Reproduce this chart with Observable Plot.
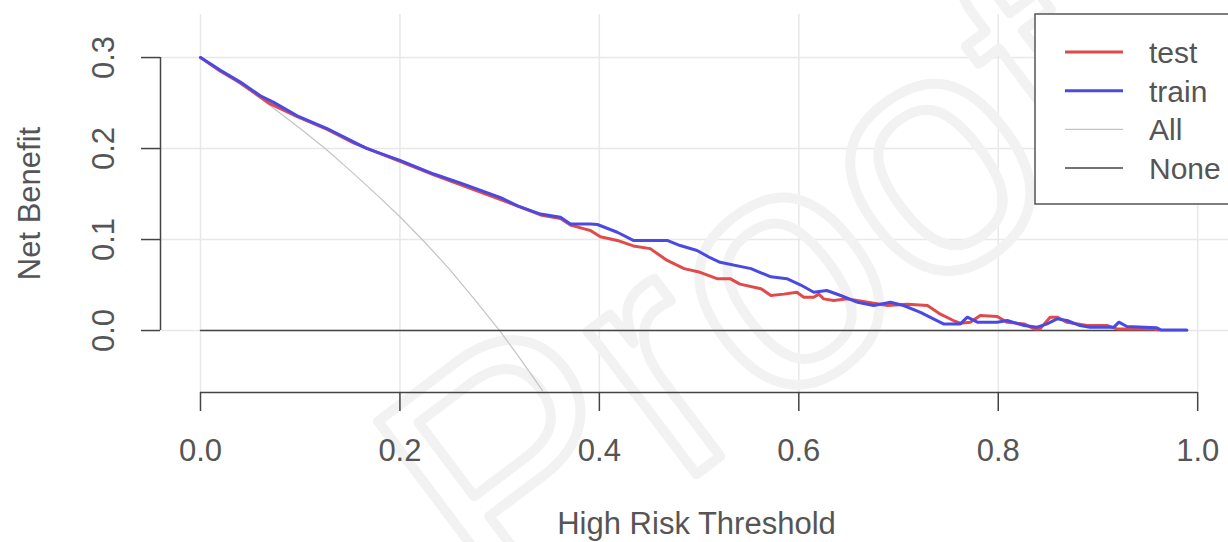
<!DOCTYPE html>
<html><head><meta charset="utf-8">
<script src="https://cdn.jsdelivr.net/npm/d3@7"></script>
<script src="https://cdn.jsdelivr.net/npm/@observablehq/plot@0.6"></script>
<style>body{margin:0;background:#fff;overflow:hidden}</style>
</head><body><div id="chart"></div>
<script>
// ---- data ----
const xTicks = [0, 0.2, 0.4, 0.6, 0.8, 1.0];
const yTicks = [0, 0.1, 0.2, 0.3];
const seriesNames = ["test", "train", "All", "None"];
const xTitle = "High Risk Threshold";
const yTitle = "Net Benefit";
const watermark = "Proof";

const testCurve = [
  [0,0.300],[0.02,0.285],[0.04,0.272],[0.07,0.249],[0.097,0.235],[0.127,0.221],
  [0.154,0.206],[0.2,0.186],[0.234,0.171],[0.261,0.160],[0.301,0.144],[0.341,0.127],
  [0.361,0.123],[0.371,0.116],[0.384,0.112],[0.391,0.110],[0.401,0.103],[0.418,0.099],
  [0.434,0.093],[0.451,0.090],[0.468,0.077],[0.485,0.068],[0.501,0.064],[0.518,0.057],
  [0.531,0.057],[0.541,0.051],[0.562,0.046],[0.572,0.0385],[0.585,0.040],[0.598,0.042],
  [0.605,0.0366],[0.615,0.0366],[0.620,0.040],[0.625,0.0348],[0.635,0.033],[0.649,0.0348],
  [0.669,0.031],[0.689,0.0275],[0.709,0.029],[0.729,0.0275],[0.742,0.018],[0.755,0.011],
  [0.762,0.008],[0.772,0.009],[0.782,0.0165],[0.799,0.0154],[0.809,0.009],[0.826,0.0073],
  [0.836,0.0018],[0.842,0.0018],[0.852,0.0147],[0.859,0.0147],[0.869,0.009],[0.889,0.0055],
  [0.909,0.0055],[0.919,0.0018],[0.955,0.0018],[0.960,0.0007]
];
const trainCurve = [
  [0,0.300],[0.02,0.286],[0.04,0.273],[0.06,0.258],[0.073,0.251],[0.097,0.236],
  [0.127,0.222],[0.154,0.207],[0.167,0.200],[0.2,0.187],[0.234,0.172],[0.261,0.162],
  [0.301,0.146],[0.318,0.137],[0.341,0.128],[0.361,0.1245],[0.371,0.117],[0.391,0.117],
  [0.398,0.1165],[0.418,0.108],[0.434,0.099],[0.468,0.099],[0.481,0.0934],[0.498,0.088],
  [0.511,0.080],[0.521,0.075],[0.552,0.068],[0.572,0.059],[0.588,0.057],[0.602,0.050],
  [0.615,0.042],[0.628,0.044],[0.642,0.0385],[0.659,0.031],[0.675,0.0275],[0.692,0.031],
  [0.705,0.0275],[0.722,0.020],[0.745,0.0073],[0.762,0.0073],[0.769,0.0147],[0.779,0.0092],
  [0.799,0.0092],[0.809,0.011],[0.826,0.0055],[0.839,0.0037],[0.849,0.0073],[0.859,0.0128],
  [0.869,0.011],[0.882,0.0055],[0.892,0.0037],[0.916,0.0037],[0.921,0.0092],[0.929,0.0044],
  [0.959,0.003],[0.963,0.0007],[0.989,0.0007]
];
const allCurve = [
  [0,0.300],[0.025,0.282],[0.05,0.263],[0.075,0.243],[0.1,0.222],[0.125,0.200],
  [0.15,0.176],[0.175,0.151],[0.2,0.125],[0.225,0.097],[0.25,0.067],[0.275,0.034],
  [0.3,0.000],[0.32,-0.030],[0.343,-0.066]
];
const noneCurve = [[0,0],[0.99,0]];

// ---- styles ----
const colors = {test: "#e04a4a", train: "#4a4ae2", All: "#c4c4c4", None: "#444444"};
const widths = {test: 3, train: 3, All: 1.2, None: 1.5};
const font = "'Liberation Sans', Arial, sans-serif";
const textColor = "#555";
const axisColor = "#444";
const xDomain = [-0.0401, 1.0309];
const yDomain = [-0.0681, 0.3473];

const plot = Plot.plot({
  width: 1228,
  height: 542,
  marginLeft: 160,
  marginRight: 0,
  marginTop: 14,
  marginBottom: 150,
  style: {fontFamily: font, background: "#fff"},
  x: {domain: xDomain},
  y: {domain: yDomain},
  marks: [
    Plot.gridX(xTicks, {stroke: "#e8e8e8", strokeOpacity: 1, strokeWidth: 1.5}),
    Plot.gridY(yTicks, {stroke: "#e8e8e8", strokeOpacity: 1, strokeWidth: 1.5}),
    Plot.text([watermark], {frameAnchor: "middle", dx: 61, dy: 90, rotate: -37, fontSize: 340,
      textAnchor: "middle", fill: "none", stroke: "#f2f2f2", strokeWidth: 10}),
    Plot.line(allCurve, {stroke: colors.All, strokeWidth: widths.All, clip: true}),
    Plot.line(noneCurve, {stroke: colors.None, strokeWidth: widths.None, clip: true}),
    Plot.line(testCurve, {stroke: colors.test, strokeWidth: widths.test, strokeLinejoin: "round", clip: true}),
    Plot.line(trainCurve, {stroke: colors.train, strokeWidth: widths.train, strokeLinejoin: "round", clip: true}),
    // R-style axes
    Plot.ruleY([yDomain[0]], {x1: xTicks[0], x2: xTicks[xTicks.length - 1], stroke: axisColor, strokeWidth: 1.5}),
    Plot.axisX(xTicks, {anchor: "bottom", tickSize: 19, tickPadding: 27, fontSize: 31,
      tickFormat: d3.format(".1f"), stroke: axisColor, fill: textColor, strokeWidth: 1.5, label: null}),
    Plot.ruleX([xDomain[0]], {y1: yTicks[0], y2: yTicks[yTicks.length - 1], stroke: axisColor, strokeWidth: 1.5}),
    Plot.axisY(yTicks, {anchor: "left", tickSize: 19, tickPadding: 28, tickRotate: -90, fontSize: 31,
      tickFormat: d3.format(".1f"), stroke: axisColor, fill: textColor, strokeWidth: 1.5, label: null}),
    Plot.text([xTitle], {frameAnchor: "bottom", textAnchor: "middle", dx: 2, dy: 141, fontSize: 31, fill: textColor}),
    Plot.text([yTitle], {frameAnchor: "left", textAnchor: "middle", dx: -130, rotate: -90, fontSize: 31, fill: textColor})
  ]
});

// legend (drawn inside the plot area, R style)
const svg = d3.select(plot);
const lg = svg.append("g").attr("font-family", font);
lg.append("rect").attr("x", 1035).attr("y", 14).attr("width", 230).attr("height", 190)
  .attr("fill", "#fff").attr("stroke", "#555").attr("stroke-width", 1.5);
seriesNames.forEach((name, i) => {
  const yy = 52 + i * 38.7;
  lg.append("line").attr("x1", 1065).attr("x2", 1123).attr("y1", yy).attr("y2", yy)
    .attr("stroke", colors[name]).attr("stroke-width", widths[name]);
  lg.append("text").attr("x", 1149).attr("y", yy).attr("dy", "0.36em")
    .attr("text-anchor", "start")
    .attr("font-size", 30).attr("fill", textColor).text(name);
});

document.getElementById("chart").appendChild(plot);
</script>
</body></html>
